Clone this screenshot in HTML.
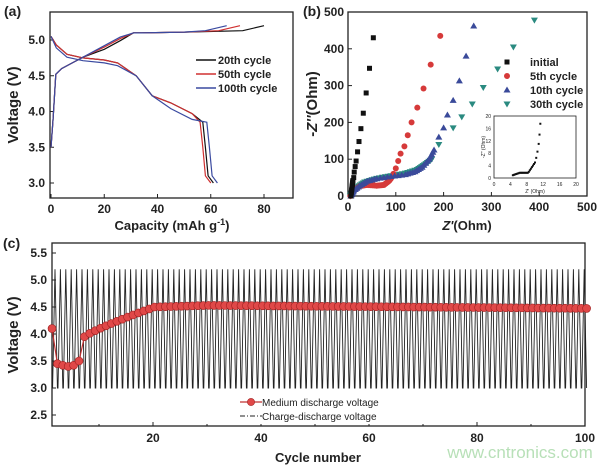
<!DOCTYPE html><html><head><meta charset="utf-8"><style>
body{margin:0;background:#fff}svg{display:block}
text{font-family:"Liberation Sans",Arial,sans-serif;font-weight:bold;fill:#222}
</style></head><body>
<svg id="s" width="600" height="467" viewBox="0 0 600 467" xmlns="http://www.w3.org/2000/svg"></svg>
<script>
const S=document.getElementById('s');let h='';
function pl(pts,X,Y,col,w){return `<polyline fill="none" stroke="${col}" stroke-width="${w}" points="${pts.map(p=>X(p[0]).toFixed(1)+','+Y(p[1]).toFixed(1)).join(' ')}"/>`;}
function t(x,y,s,fs,anc,extra){return `<text x="${x}" y="${y}" font-size="${fs}" text-anchor="${anc||'middle'}" ${extra||''}>${s}</text>`;}
function interp(path,n){let out=[];for(let i=0;i<path.length-1;i++){for(let k=0;k<n;k++){let f=k/n;out.push([path[i][0]+(path[i+1][0]-path[i][0])*f,path[i][1]+(path[i+1][1]-path[i][1])*f]);}}out.push(path[path.length-1]);return out;}
// Panel a
let X=v=>51+v*2.6625,Y=v=>183-(v-3)*71.5;
h+=`<rect x="50" y="12" width="243" height="186" fill="none" stroke="#222" stroke-width="1.3"/>`;
for(const v of [0,20,40,60,80]){h+=`<line x1="${X(v)}" y1="198" x2="${X(v)}" y2="194" stroke="#222"/>`+t(X(v),213,v,12);}
for(const v of [3,3.5,4,4.5,5]){h+=`<line x1="50" y1="${Y(v)}" x2="54" y2="${Y(v)}" stroke="#222"/>`+t(45,Y(v)+4,v.toFixed(1),12,'end');}
function ch(end,o){return [[0,3.5],[0.8,3.9],[1.8,4.52],[4,4.6],[8,4.68],[12,4.76],[20,4.9+o],[26,5.02+o],[31,5.1],[34,5.1],[50,5.11],[end-8,5.13],[end,5.2]];}
function dc(end,o,s){return [[0,5.05],[2,4.93-s],[6,4.8-s],[12,4.75-s],[20,4.72-s],[25,4.68-s],[32,4.5],[38,4.22],[45,4.12-o],[53,3.97-o],[end-4,3.85],[end-3,3.5],[end-2,3.1],[end,3.0]];}
h+=pl(dc(61,0,0),X,Y,'#111',1.2)+pl(dc(60,0,0),X,Y,'#d03030',1.2)+pl(dc(62.5,0.08,0.04),X,Y,'#3a4aa0',1.2);
h+=pl(ch(80,-0.03),X,Y,'#111',1.2)+pl(ch(71,0),X,Y,'#d03030',1.2)+pl(ch(66,0.02),X,Y,'#3a4aa0',1.2);
[['20th cycle','#111',64],['50th cycle','#d03030',78],['100th cycle','#3a4aa0',92]].forEach(l=>{h+=`<line x1="196" y1="${l[2]-4}" x2="216" y2="${l[2]-4}" stroke="${l[1]}" stroke-width="1.5"/>`+t(218,l[2],l[0],11,'start');});
h+=t(4,16,'(a)',14,'start');
h+=t(172,230,'Capacity (mAh g<tspan dy="-5" font-size="9">-1</tspan><tspan dy="5">)</tspan>',13);
h+=t(18,105,'Voltage (V)',15,'middle','transform="rotate(-90 18 105)"');
// Panel b
let Xb=v=>348+v*0.478,Yb=v=>196-v*0.368;
h+=`<rect x="348" y="12" width="239" height="184" fill="none" stroke="#222" stroke-width="1.3"/>`;
for(const v of [0,100,200,300,400,500]){h+=`<line x1="${Xb(v)}" y1="196" x2="${Xb(v)}" y2="192" stroke="#222"/>`+t(Xb(v),211,v,12);}
for(const v of [0,100,200,300,400,500]){h+=`<line x1="348" y1="${Yb(v)}" x2="352" y2="${Yb(v)}" stroke="#222"/>`+t(344,Yb(v)+4,v,12,'end');}
const sq=(x,y,c)=>`<rect x="${x-2.5}" y="${y-2.5}" width="5" height="5" fill="${c}"/>`;
const ci=(x,y,c)=>`<circle cx="${x}" cy="${y}" r="3" fill="${c}"/>`;
const tu=(x,y,c)=>`<path d="M${x} ${y-3.5}L${x+3.5} ${y+2.5}L${x-3.5} ${y+2.5}Z" fill="${c}"/>`;
const td=(x,y,c)=>`<path d="M${x} ${y+3.5}L${x+3.5} ${y-2.5}L${x-3.5} ${y-2.5}Z" fill="${c}"/>`;
let g=[];
let base=interp([[5,0],[10,12],[20,25],[35,38],[60,48],[90,55],[120,62],[145,72],[160,85],[175,100]],5);
let p30=base.concat([[190,140],[220,185],[238,215],[260,250],[283,295],[313,345],[346,405],[390,478]]);
p30.forEach(p=>g.push(td(Xb(p[0]),Yb(p[1]),'#2a8a80')));
let p5=interp([[5,0],[12,15],[25,27],[40,30],[60,28],[75,30],[85,40],[90,48]],5).concat([[95,60],[100,75],[105,95],[110,115],[118,135],[125,165],[133,200],[145,240],[158,292],[173,357],[193,435]]);
p5.forEach(p=>g.push(ci(Xb(p[0]),Yb(p[1]),'#d63a3a')));
let p10=interp([[6,0],[12,14],[25,28],[40,40],[60,47],[90,53],[120,58],[140,66],[155,78],[170,100],[180,125]],4).concat([[190,160],[200,185],[208,220],[220,260],[233,313],[247,380],[263,462]]);
p10.forEach(p=>g.push(tu(Xb(p[0]),Yb(p[1]),'#3a4a9a')));
let pi=[];for(let i=0;i<15;i++)pi.push([6+i*0.3,i*3]);
pi=pi.concat([[12,50],[13,65],[15,80],[17,95],[20,120],[23,148],[27,183],[32,225],[38,280],[45,347],[53,430]]);
pi.forEach(p=>g.push(sq(Xb(p[0]),Yb(p[1]),'#111')));
h+=g.join('');
h+=sq(507,62,'#111')+t(530,66,'initial',11,'start')+ci(507,76,'#d63a3a')+t(530,80,'5th cycle',11,'start')+tu(507,90,'#3a4a9a')+t(530,94,'10th cycle',11,'start')+td(507,104,'#2a8a80')+t(530,108,'30th cycle',11,'start');
// inset
let Xi=v=>494+v*4.1,Yi=v=>178-v*3.1;
h+=`<rect x="494" y="116" width="82" height="62" fill="#fff" stroke="#222" stroke-width="0.8"/>`;
for(const v of [0,4,8,12,16,20]){h+=t(Xi(v),186,v,5,'middle','style="font-weight:normal"')+t(491,Yi(v)+2,v,5,'end','style="font-weight:normal"');}
let ip=[];for(let i=0;i<14;i++)ip.push([4.6+i*0.28,0.9+Math.min(i,6)*0.13]);for(let i=0;i<6;i++)ip.push([8.5+i*0.25,2+i*0.5]);ip=ip.concat([[10,5],[10.3,6.5],[10.6,8.5],[10.9,11],[11.1,14],[11.3,17.5]]);
ip.forEach(p=>h+=`<rect x="${Xi(p[0])-1}" y="${Yi(p[1])-1}" width="2" height="2" fill="#111"/>`);
h+=t(535,193,"Z' (Ohm)",5,'middle','style="font-weight:normal"')+t(485,147,"-Z'' (Ohm)",5,'middle','style="font-weight:normal" transform="rotate(-90 485 147)"');
h+=t(303,16,'(b)',14,'start');
h+=t(467,230,"<tspan font-style='italic'>Z'</tspan>(Ohm)",13);
h+=t(317,104,"-<tspan font-style='italic'>Z''</tspan>(Ohm)",15,'middle','transform="rotate(-90 317 104)"');
// Panel c
let Xc=v=>45+v*5.4,Yc=v=>253-(v-5.5)*54;
h+=`<rect x="52" y="243" width="533" height="183" fill="none" stroke="#222" stroke-width="1.3"/>`;
for(const v of [20,40,60,80,100]){h+=`<line x1="${Xc(v)}" y1="426" x2="${Xc(v)}" y2="422" stroke="#222"/>`+t(Xc(v),442,v,12);}
for(const v of [10,30,50,70,90]){h+=`<line x1="${Xc(v)}" y1="426" x2="${Xc(v)}" y2="424" stroke="#222"/>`;}
for(const v of [2.5,3,3.5,4,4.5,5,5.5]){h+=`<line x1="52" y1="${Yc(v)}" x2="56" y2="${Yc(v)}" stroke="#222"/>`+t(47,Yc(v)+4,v.toFixed(1),12,'end');}
let wv=[];for(let c=1.4;c<=100;c+=1){wv.push([c,3.0]);wv.push([c+0.45,5.2]);wv.push([c+0.9,3.0]);}
h+=pl(wv,Xc,Yc,'#222',0.9);
let mv=[];const early=[4.1,3.45,3.42,3.4,3.42,3.5];
for(let c=1;c<=100;c++){let v;if(c<=6)v=early[c-1];else if(c<=20)v=3.95+(4.5-3.95)*Math.pow((c-7)/13,0.85);else if(c<=30)v=4.5+(c-20)*0.003;else v=4.53-(c-30)*0.0008;mv.push([c+0.3,v]);}
h+=pl(mv,Xc,Yc,'#c03030',1.2);
mv.forEach(p=>h+=`<circle cx="${Xc(p[0])}" cy="${Yc(p[1])}" r="4" fill="#e04848" stroke="#a02020" stroke-width="0.6"/>`);
h+=`<rect x="236" y="395" width="150" height="29" fill="#fff"/>`;
h+=`<line x1="240" y1="402" x2="262" y2="402" stroke="#c03030" stroke-width="1.2"/><circle cx="251" cy="402" r="3.6" fill="#e04848" stroke="#a02020" stroke-width="0.6"/>`+t(262,406,'Medium discharge voltage',10,'start','style="font-weight:normal"');
h+=`<line x1="240" y1="416" x2="262" y2="416" stroke="#222" stroke-dasharray="5 2 1 2"/>`+t(262,420,'Charge-discharge voltage',10,'start','style="font-weight:normal"');
h+=t(3,248,'(c)',14,'start');
h+=t(318,462,'Cycle number',13);
h+=t(18,335,'Voltage (V)',15,'middle','transform="rotate(-90 18 335)"');
h+=`<text x="520" y="458" font-size="17" text-anchor="middle" style="font-weight:normal;fill:#b8e0b8">www.cntronics.com</text>`;
S.innerHTML=h;
</script></body></html>
